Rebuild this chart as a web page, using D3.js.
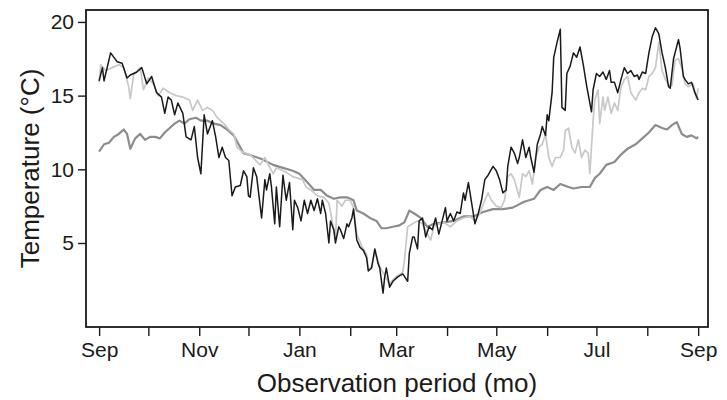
<!DOCTYPE html>
<html>
<head>
<meta charset="utf-8">
<script src="https://cdn.jsdelivr.net/npm/d3@7"></script>
<style>
  body { margin: 0; background: #fff; }
  text { font-family: "Liberation Sans", Arial, sans-serif; fill: #1a1a1a; }
</style>
</head>
<body>
<div id="chart"></div>
<script>
// day offsets are counted from 1 Sep (start of the observation period)
var startDate = new Date(2010, 8, 1);

// mid grey, smooth series: [day, temperature]
var smoothSeries = [
  [0,11.2],[3,11.7],[6,11.8],[9,12.2],[12,12.4],[15,12.7],[17,12.4],[19,11.4],[22,12.1],[25,12.4],
  [28,12.0],[31,12.2],[34,12.2],[37,12.1],[40,12.5],[43,12.8],[46,13.1],[49,13.3],[52,13.1],[55,13.4],
  [59,13.5],[62,13.3],[66,13.3],[70,13.1],[74,13.0],[78,12.7],[82,12.3],[85,11.7],[88,11.1],[91,11.0],
  [99,10.7],[106,10.3],[112,10.1],[118,9.9],[122,9.7],[127,9.1],[131,8.6],[135,8.6],[139,8.2],[143,8.0],
  [147,8.1],[151,8.1],[155,7.9],[157,7.2],[161,7.0],[165,6.7],[169,6.5],[172,6.0],[175,6.0],[179,6.1],
  [183,6.2],[186,6.4],[189,7.2],[192,7.0],[196,6.7],[200,6.1],[204,6.3],[210,6.4],[216,6.5],[222,6.8],
  [228,6.8],[234,7.1],[240,7.3],[246,7.3],[252,7.4],[259,7.8],[265,8.0],[269,8.6],[273,8.8],[277,8.6],
  [281,9.0],[286,8.8],[289,8.7],[294,8.8],[299,8.8],[302,9.4],[305,9.7],[309,10.3],[314,10.5],[318,11.0],
  [322,11.4],[327,11.7],[331,12.1],[335,12.5],[339,13.0],[343,12.8],[346,12.7],[349,13.0],[352,13.2],[355,12.4],
  [358,12.2],[361,12.3],[364,12.1],[365,12.2]
];

// light grey series
var lightSeries = [
  [0,15.9],[1,17.1],[4,16.7],[8,16.9],[12,17.1],[15,16.9],[18,15.6],[19,14.8],[21,16.4],[25,16.9],
  [27,15.4],[30,16.2],[33,15.8],[36,15.0],[39,15.5],[43,15.2],[47,15.0],[51,14.9],[55,14.7],[57,14.0],
  [60,14.7],[63,14.0],[66,14.2],[69,14.0],[72,13.5],[76,13.1],[79,12.7],[82,12.4],[84,11.5],[87,11.2],
  [91,11.0],[92,11.0],[98,10.3],[101,10.8],[106,9.7],[108,10.1],[114,9.8],[118,9.5],[124,9.3],[126,8.8],
  [129,8.6],[133,8.2],[137,8.1],[140,7.7],[142,6.5],[144,5.2],[145,7.9],[148,7.5],[150,7.9],[153,7.9],
  [155,7.4],[157,5.6],[160,4.8],[163,4.2],[164,3.2],[166,3.4],[168,4.4],[171,3.4],[174,2.8],[177,2.2],
  [179,2.5],[182,2.8],[185,3.0],[186,3.8],[188,6.1],[191,6.3],[194,6.5],[197,6.3],[200,5.6],[202,5.2],
  [204,6.1],[207,6.3],[210,6.4],[214,6.1],[218,6.5],[222,6.7],[226,6.8],[229,6.5],[232,7.0],[235,7.9],
  [237,8.4],[239,7.9],[242,7.5],[245,7.4],[247,7.9],[249,9.5],[251,9.7],[253,9.3],[256,8.1],[258,9.7],
  [260,9.5],[262,9.9],[264,9.0],[266,10.8],[268,11.5],[270,11.7],[272,12.4],[274,10.8],[276,10.2],[278,10.8],
  [281,10.8],[283,11.3],[284,12.6],[286,12.8],[288,11.5],[290,11.1],[292,12.0],[294,10.8],[296,11.3],[298,11.1],
  [299,9.7],[301,13.3],[302,14.7],[304,15.4],[305,13.1],[307,14.9],[308,14.0],[310,14.9],[312,13.8],[314,14.5],
  [316,14.0],[318,15.6],[320,16.1],[322,16.3],[324,15.2],[327,14.7],[329,15.2],[331,15.5],[333,15.4],[335,16.3],
  [337,16.5],[339,16.9],[341,18.6],[343,16.7],[345,16.1],[347,15.7],[349,15.7],[351,17.4],[353,17.5],[355,16.9],
  [357,15.8],[359,15.6],[362,15.8],[364,14.8],[365,15.5]
];

// black series
var darkSeries = [
  [0,16.0],[2,16.9],[3,16.0],[7,17.9],[11,17.3],[14,17.2],[17,16.2],[19,16.4],[23,16.6],[26,16.9],
  [29,15.8],[32,16.3],[35,15.2],[38,14.9],[40,13.8],[42,14.9],[44,14.7],[46,13.7],[48,14.5],[51,13.8],
  [53,12.2],[56,12.0],[58,12.9],[60,10.8],[62,9.7],[64,13.7],[66,12.4],[69,13.3],[71,12.2],[73,10.8],
  [75,11.5],[77,10.8],[79,10.6],[81,8.2],[83,8.8],[86,8.9],[88,9.9],[90,9.5],[91,8.2],[92,8.1],
  [94,10.1],[96,9.5],[99,6.7],[101,9.3],[102,8.6],[104,9.7],[105,8.8],[107,6.3],[108,8.8],[110,6.1],
  [112,9.6],[114,7.9],[116,9.1],[118,5.9],[119,7.9],[121,7.4],[123,6.5],[125,7.9],[127,7.0],[129,7.9],
  [131,7.2],[133,8.0],[135,7.0],[136,7.9],[138,7.0],[140,5.0],[141,6.5],[143,5.9],[144,5.0],[146,6.1],
  [147,5.9],[149,5.3],[151,6.3],[152,6.1],[154,6.7],[155,7.3],[157,5.2],[159,4.7],[161,4.5],[163,4.0],
  [164,3.1],[166,3.3],[168,4.6],[170,3.6],[171,3.3],[173,1.6],[174,2.7],[175,3.3],[177,2.0],[179,2.4],
  [182,2.7],[185,2.9],[188,2.4],[189,4.3],[191,5.4],[192,5.4],[194,4.6],[195,6.5],[197,6.7],[199,5.4],
  [201,6.1],[203,5.9],[205,6.7],[207,5.6],[209,6.5],[211,7.4],[212,6.5],[214,7.0],[216,6.5],[218,7.1],
  [220,7.0],[222,8.4],[223,7.9],[225,9.1],[226,8.4],[228,7.0],[229,6.3],[231,7.0],[233,7.9],[235,9.3],
  [237,9.6],[240,10.2],[242,9.9],[244,9.3],[246,8.4],[248,8.6],[249,10.2],[251,11.5],[253,11.1],[255,10.4],
  [256,10.8],[258,12.0],[260,10.8],[262,11.5],[263,10.8],[265,9.8],[267,11.7],[269,12.4],[270,12.9],[272,12.3],
  [273,13.7],[274,13.3],[276,15.2],[277,17.6],[279,18.6],[281,19.5],[282,14.2],[284,14.0],[285,16.5],[287,17.0],
  [289,17.9],[291,17.6],[293,18.3],[295,17.1],[297,15.7],[300,13.9],[301,15.4],[303,16.5],[305,16.3],[307,16.6],
  [309,16.1],[311,16.7],[312,15.9],[314,15.9],[316,15.2],[318,16.1],[320,16.9],[322,16.5],[324,16.7],[326,16.3],
  [328,16.4],[329,16.1],[331,16.6],[333,16.5],[335,17.9],[337,19.0],[339,19.6],[341,19.2],[343,17.9],[345,16.9],
  [347,15.6],[348,15.5],[350,17.5],[353,18.8],[354,18.2],[356,16.3],[357,16.1],[359,15.8],[361,15.9],[363,15.2],
  [365,14.7]
];

var yTicks = [5, 10, 15, 20];
var labelledMonths = ["Sep", "Nov", "Jan", "Mar", "May", "Jul", "Sep"];

var margin = { left: 86, right: 19, top: 10, bottom: 73 };
var width = 727 - margin.left - margin.right;
var height = 400 - margin.top - margin.bottom;

var svg = d3.select("#chart").append("svg")
  .attr("width", 727)
  .attr("height", 400);

var g = svg.append("g")
  .attr("transform", "translate(" + margin.left + "," + margin.top + ")");

var x = d3.scaleTime()
  .domain([d3.timeDay.offset(startDate, -8), d3.timeDay.offset(startDate, 371)])
  .range([0, width]);

var y = d3.scaleLinear()
  .domain([-0.7, 20.81])
  .range([height, 0]);

var line = d3.line()
  .x(d => x(d3.timeDay.offset(startDate, d[0])))
  .y(d => y(d[1]));

// x axis: a tick every month, a label every second month
var monthTicks = d3.timeMonth.range(startDate, d3.timeDay.offset(startDate, 366));
var xAxis = d3.axisBottom(x)
  .tickValues(monthTicks)
  .tickSize(9)
  .tickPadding(6)
  .tickFormat((d, i) => i % 2 == 0 ? labelledMonths[i / 2] : "");

g.append("g")
  .attr("class", "axis axis--x")
  .attr("transform", "translate(0," + height + ")")
  .call(xAxis);

g.append("g")
  .attr("class", "axis axis--y")
  .call(d3.axisLeft(y).tickValues(yTicks).tickSize(8).tickPadding(4));

g.selectAll(".axis path").remove();
g.selectAll(".axis line").attr("stroke", "#1a1a1a").attr("stroke-width", 1.4);
g.selectAll(".axis text")
  .style("font-size", "21px")
  .attr("fill", "#1a1a1a");

var series = [
  { data: smoothSeries, color: "#8c8c8c", w: 2.2 },
  { data: lightSeries, color: "#c8c8c8", w: 1.7 },
  { data: darkSeries, color: "#1a1a1a", w: 1.5 }
];

g.selectAll(".series")
  .data(series)
  .enter().append("path")
    .attr("class", "series")
    .attr("fill", "none")
    .attr("stroke", d => d.color)
    .attr("stroke-width", d => d.w)
    .attr("stroke-linejoin", "round")
    .attr("d", d => line(d.data));

// frame
g.append("rect")
  .attr("width", width)
  .attr("height", height)
  .attr("fill", "none")
  .attr("stroke", "#1a1a1a")
  .attr("stroke-width", 1.8);

svg.append("text")
  .attr("x", margin.left + width / 2)
  .attr("y", 392)
  .attr("text-anchor", "middle")
  .style("font-size", "26px")
  .text("Observation period (mo)");

svg.append("text")
  .attr("transform", "translate(39," + (margin.top + height / 2) + ") rotate(-90)")
  .attr("text-anchor", "middle")
  .style("font-size", "26px")
  .text("Temperature (°C)");
</script>
</body>
</html>
